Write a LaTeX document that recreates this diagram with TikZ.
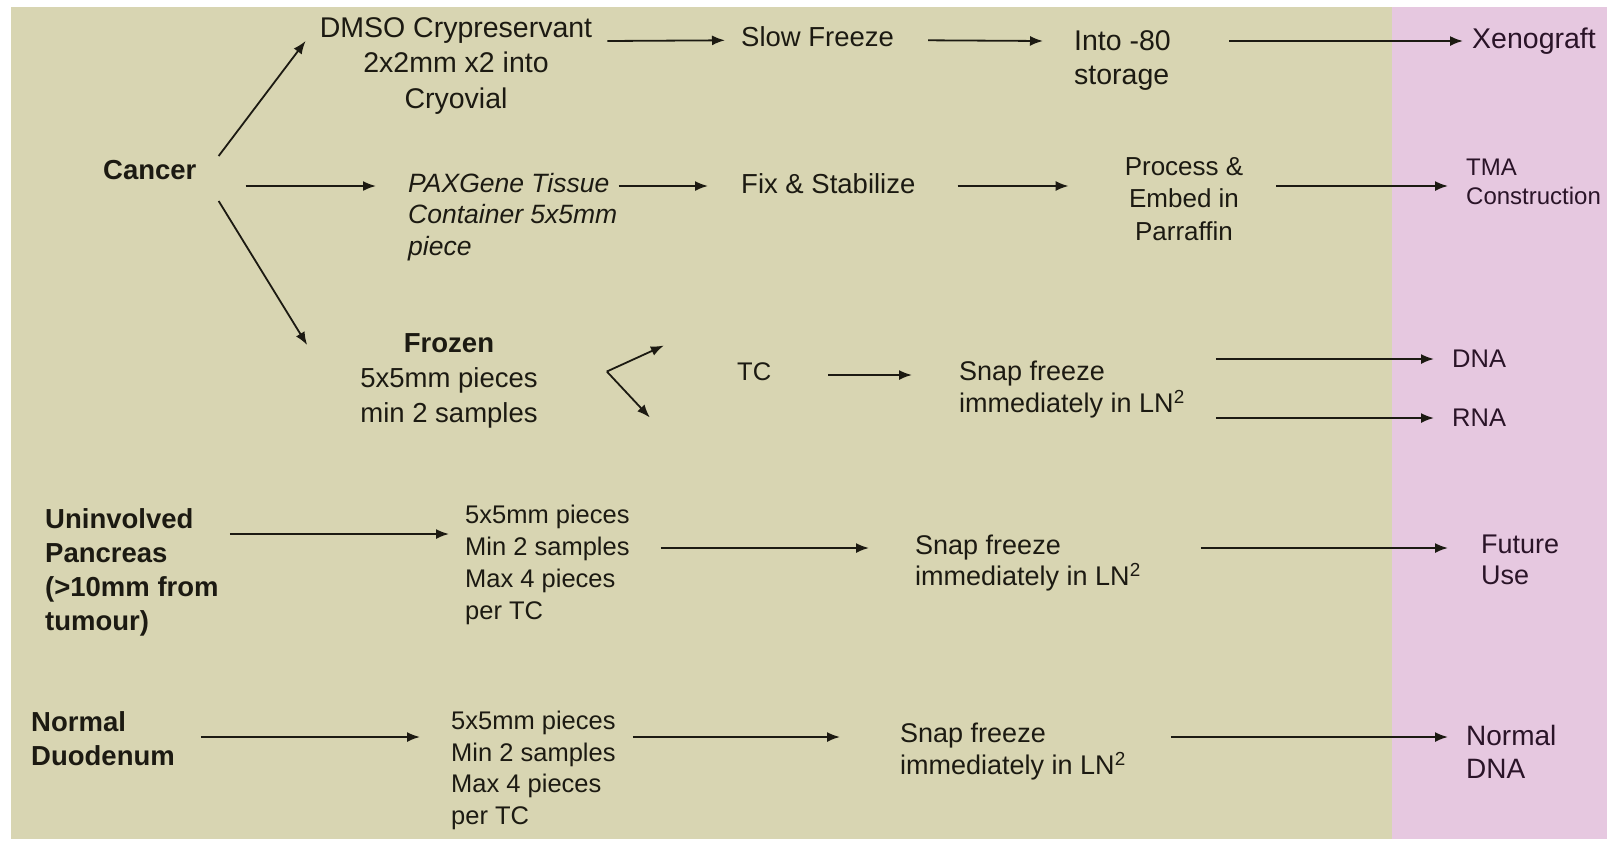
\documentclass[tikz,border=0pt]{standalone}
\usepackage{fontspec}
\setmainfont{Liberation Sans}
\usetikzlibrary{arrows.meta, calc}
\definecolor{panel}{HTML}{D8D5B2}
\definecolor{outpink}{HTML}{E6C8E0}
\definecolor{ink}{HTML}{1C1A12}
\definecolor{plum}{HTML}{2A1428}

\begin{document}
\begin{tikzpicture}[x=1pt, y=-1pt,
  >={Latex[length=13pt, width=10pt]},
  txt/.style={inner sep=0pt, text=ink, font=\fontsize{27.5}{33}\selectfont},
  hd/.style={txt, font=\fontsize{27.5}{34}\selectfont\bfseries},
  lst/.style={txt, font=\fontsize{25.5}{32}\selectfont},
  res/.style={txt, text=plum},
  arr/.style={->, draw=ink, line width=1.8pt}]

% Background
\useasboundingbox (0,0) rectangle (1610,841);
\fill[white] (0,0) rectangle (1610,841);
\fill[panel] (11,7) rectangle (1392,839);
\fill[outpink] (1392,7) rectangle (1607,839);

% Cancer
\node[hd, anchor=west] (cancer) at (103,170) {Cancer};

% Row 1: DMSO
\node[txt, anchor=north, align=center, font=\fontsize{28.5}{35.5}\selectfont] (dmso) at (456,17)
  {DMSO Crypreservant\\2x2mm x2 into\\Cryovial};
\node[txt, anchor=north west] (slow) at (741,26) {Slow Freeze};
\node[txt, anchor=north west, align=left, font=\fontsize{28.5}{34}\selectfont] (into) at (1074,30)
  {Into -80\\storage};
\node[res, anchor=west, font=\fontsize{28.5}{34}\selectfont] (xeno) at (1472,41) {Xenograft};

% Row 2: PAXGene
\node[txt, anchor=north west, align=left, font=\fontsize{26.5}{31.5}\selectfont\itshape] (pax) at (408,173)
  {PAXGene Tissue\\Container 5x5mm\\piece};
\node[txt, anchor=west] (fix) at (741,184) {Fix \& Stabilize};
\node[txt, anchor=north, align=center, font=\fontsize{26}{32.5}\selectfont] (proc) at (1184,157)
  {Process \&\\Embed in\\Parraffin};
\node[res, anchor=west, align=left, font=\fontsize{24}{29}\selectfont] (tma) at (1466,182)
  {TMA\\Construction};

% Row 3: Frozen
\node[txt, anchor=north, align=center, font=\fontsize{27.5}{35}\selectfont] (frozen) at (449,333)
  {\textbf{Frozen}\\5x5mm pieces\\min 2 samples};
\node[lst, anchor=west] (tc) at (737,372) {TC};
\node[txt, anchor=north west, align=left, font=\fontsize{27}{32}\selectfont] (snapa) at (959,361)
  {Snap freeze\\immediately in LN\textsuperscript{2}};
\node[res, anchor=west, font=\fontsize{25.5}{32}\selectfont] (dna) at (1452,359) {DNA};
\node[res, anchor=west, font=\fontsize{25.5}{32}\selectfont] (rna) at (1452,418) {RNA};

% Row 4: Uninvolved pancreas
\node[hd, anchor=north west, align=left] (unin) at (45,508)
  {Uninvolved\\Pancreas\\(>10mm from\\tumour)};
\node[lst, anchor=north west, align=left] (piecesa) at (465,505)
  {5x5mm pieces\\Min 2 samples\\Max 4 pieces\\per TC};
\node[txt, anchor=north west, align=left, font=\fontsize{27}{31}\selectfont] (snapb) at (915,535)
  {Snap freeze\\immediately in LN\textsuperscript{2}};
\node[res, anchor=north west, align=left, font=\fontsize{27}{31}\selectfont] (future) at (1481,535)
  {Future\\Use};

% Row 5: Normal duodenum
\node[hd, anchor=north west, align=left] (normal) at (31,711) {Normal\\Duodenum};
\node[lst, anchor=north west, align=left, font=\fontsize{25.5}{31.5}\selectfont] (piecesb) at (451,711)
  {5x5mm pieces\\Min 2 samples\\Max 4 pieces\\per TC};
\node[txt, anchor=north west, align=left, font=\fontsize{27}{32}\selectfont] (snapc) at (900,723)
  {Snap freeze\\immediately in LN\textsuperscript{2}};
\node[res, anchor=north west, align=left, font=\fontsize{28}{33}\selectfont] (normdna) at (1466,725)
  {Normal\\DNA};

% Cancer branches
\draw[arr] ($(cancer.east)+(22,-14)$) -- ($(dmso.north west)+(-14,24)$);
\draw[arr] ($(cancer.east)+(49,16)$) -- ($(pax.north west)+(-32,13)$);
\draw[arr] ($(cancer.east)+(22,31)$) -- ($(frozen.north west)+(-53,12)$);

% Row 1 arrows
\draw[arr] ($(dmso.north east)+(15,24)$) -- ($(slow.west)+(-16,4)$);
\draw[arr] ($(slow.east)+(34,4)$) -- ($(into.north west)+(-31,11)$);
\draw[arr] ($(into.north east)+(58,11)$) -- ($(xeno.west)+(-9,0)$);

% Row 2 arrows
\draw[arr] ($(pax.north east)+(1,13)$) -- ($(fix.west)+(-33,2)$);
\draw[arr] ($(fix.east)+(42,2)$) -- ($(proc.north west)+(-56,29)$);
\draw[arr] ($(proc.north east)+(33,29)$) -- ($(tma.west)+(-18,4)$);

% Row 3 arrows (fork to TC)
\coordinate (fork) at ($(frozen.east)+(69,-9)$);
\coordinate (forkup) at ($(fork)+(57,-26)$);
\coordinate (forkdn) at ($(fork)+(43,46)$);
\draw[arr] (fork) -- (forkup);
\draw[arr] (fork) -- (forkdn);
\draw[arr] ($(tc.east)+(57,3)$) -- ($(snapa.north west)+(-47,14)$);
\draw[arr] ($(snapa.east |- dna.west)+(31,0)$) -- ($(dna.west)+(-18,0)$);
\draw[arr] ($(snapa.east |- rna.west)+(31,0)$) -- ($(rna.west)+(-18,0)$);

% Row 4 arrows
\draw[arr] ($(unin.north east)+(11,26)$) -- ($(piecesa.north west)+(-16,29)$);
\draw[arr] ($(piecesa.north east)+(31,43)$) -- ($(snapb.north west)+(-46,13)$);
\draw[arr] ($(snapb.north east)+(60,13)$) -- ($(future.north west)+(-33,13)$);

% Row 5 arrows
\draw[arr] ($(normal.north east)+(26,26)$) -- ($(piecesb.north west)+(-31,26)$);
\draw[arr] ($(piecesb.north east)+(17,26)$) -- ($(snapc.north west)+(-60,14)$);
\draw[arr] ($(snapc.north east)+(45,14)$) -- ($(normdna.north west)+(-18,12)$);

\end{tikzpicture}
\end{document}
